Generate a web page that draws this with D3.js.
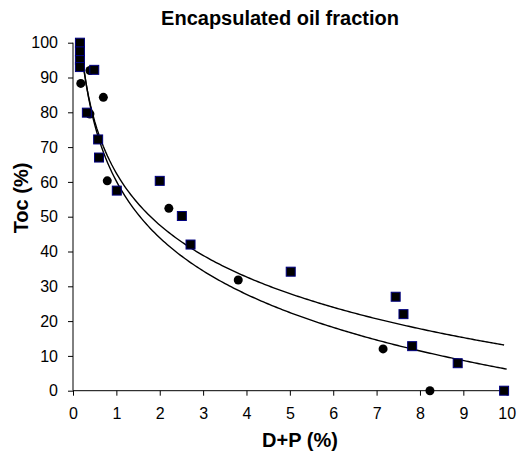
<!DOCTYPE html>
<html><head><meta charset="utf-8">
<script src="https://cdn.jsdelivr.net/npm/d3@7"></script>
<style>
body{margin:0;background:#fff;}
svg{display:block;font-family:"Liberation Sans",Arial,sans-serif;}
</style></head>
<body><svg id="c" width="524" height="467"></svg>
<script>
// Series 1: circles
const circleX = [0.16, 0.16, 0.18, 0.39, 0.70, 0.39, 0.79, 2.21, 3.81, 7.15, 8.23];
const circleY = [99, 96.5, 88.3, 92, 84.3, 79.5, 60.3, 52.4, 31.8, 12, 0];
// Series 2: squares
const squareX = [0.16, 0.16, 0.16, 0.16, 0.49, 0.32, 0.58, 0.60, 1.01, 2.0, 2.51, 2.71, 5.02, 7.44, 7.62, 7.82, 8.87, 9.94];
const squareY = [100, 97.5, 95, 93, 92.2, 79.9, 72.2, 67, 57.5, 60.3, 50.2, 42, 34.2, 27, 22, 12.8, 7.9, 0];
// Logarithmic trendlines y = a - b*ln(x): [a, b, xStart, xEnd]
const trendUpper = [62.5, 21.5, 0.16, 9.94];
const trendLower = [60.2, 23.45, 0.16, 10.0];
const xTicks = [0,1,2,3,4,5,6,7,8,9,10];
const yTicks = [0,10,20,30,40,50,60,70,80,90,100];

const svg = d3.select("#c");
const x = d3.scaleLinear().domain([0,10]).range([73, 506.7]);
const y = d3.scaleLinear().domain([0,100]).range([390.7, 42.7]);

svg.append("defs").append("clipPath").attr("id","clip")
  .append("rect").attr("x",73).attr("y",42.7).attr("width",434).attr("height",348);

// axes
const xAxis = svg.append("g").attr("transform",`translate(0,${y(0)})`)
  .call(d3.axisBottom(x).tickValues(xTicks).tickSize(5).tickPadding(12).tickFormat(d3.format("d")));
const yAxis = svg.append("g").attr("transform",`translate(${x(0)},0)`)
  .call(d3.axisLeft(y).tickValues(yTicks).tickSize(5).tickPadding(10).tickFormat(d3.format("d")));
[xAxis,yAxis].forEach(g=>{
  g.select(".domain").attr("stroke","#000").attr("stroke-width",1);
  g.selectAll(".tick line").attr("stroke","#000");
  g.selectAll(".tick text").attr("fill","#000").style("font-size","16px").style("font-family","'Liberation Sans',Arial,sans-serif");
});
xAxis.select(".domain").attr("d",`M${x(0)},0H${x(10)}`);
yAxis.select(".domain").attr("d",`M0,${y(0)}V${y(100)}`);

// trendlines
const line = d3.line().x(d=>x(d[0])).y(d=>y(d[1]));
[trendUpper, trendLower].forEach(t=>{
  const pts = d3.range(0,201).map(i=>{const xv = t[2]+(t[3]-t[2])*i/200; return [xv, t[0]-t[1]*Math.log(xv)];});
  svg.append("path").attr("clip-path","url(#clip)").attr("d",line(pts))
    .attr("fill","none").attr("stroke","#000").attr("stroke-width",1.4);
});

// markers
svg.append("g").selectAll("circle").data(d3.range(circleX.length)).join("circle")
  .attr("cx",i=>x(circleX[i])).attr("cy",i=>y(circleY[i])).attr("r",4.5).attr("fill","#000");
svg.append("g").selectAll("rect").data(d3.range(squareX.length)).join("rect")
  .attr("x",i=>x(squareX[i])-4.5).attr("y",i=>y(squareY[i])-4.5).attr("width",9).attr("height",9)
  .attr("fill","#000").attr("stroke","#000080").attr("stroke-width",1);

// titles
svg.append("text").attr("x",280).attr("y",25).attr("text-anchor","middle")
  .style("font-size","20px").style("font-weight","bold").text("Encapsulated oil fraction");
svg.append("text").attr("x",300).attr("y",447).attr("text-anchor","middle")
  .style("font-size","20px").style("font-weight","bold").text("D+P (%)");
svg.append("text").attr("transform","translate(28,198) rotate(-90)").attr("text-anchor","middle")
  .style("font-size","20px").style("font-weight","bold").text("Toc (%)");
</script></body></html>
